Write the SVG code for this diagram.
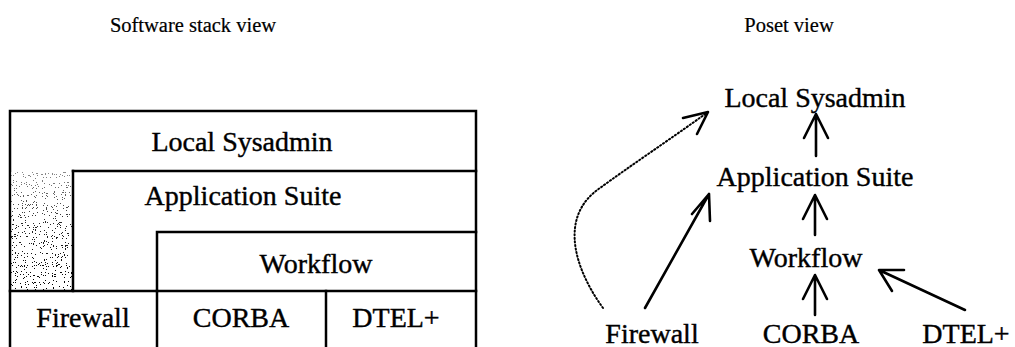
<svg xmlns="http://www.w3.org/2000/svg" width="1015" height="347" viewBox="0 0 1015 347">
  <style>
    .t { font-family: "Liberation Serif", "Times New Roman", serif; fill: #000; stroke: #000; stroke-width: 0.4; }
    .title { font-size: 20.5px; stroke-width: 0.2; }
    .lbl { font-size: 28px; text-anchor: middle; }
    .ln { stroke: #000; stroke-width: 2.5; fill: none; stroke-linecap: square; }
    .edge { stroke: #000; stroke-width: 2.6; fill: none; stroke-linecap: round; stroke-linejoin: round; }
    .dot { stroke: #000; stroke-width: 2; fill: none; stroke-dasharray: 1.2 2.4; stroke-linecap: round; }
  </style>
  <defs>
    <!-- speckled fill for the shaded layer, sparser at the top -->
    <filter id="grain" x="0" y="0" width="100%" height="100%">
      <feTurbulence type="fractalNoise" baseFrequency="0.9" numOctaves="2" seed="7" result="n"/>
      <feColorMatrix in="n" type="matrix" values="0 0 0 0 0  0 0 0 0 0  0 0 0 0 0  0 0 0 -2.2 1.3" result="a"/>
      <feComponentTransfer in="a">
        <feFuncA type="discrete" tableValues="0 0 0 1 1"/>
      </feComponentTransfer>
    </filter>
    <linearGradient id="fade" x1="0" y1="0" x2="0" y2="1">
      <stop offset="0" stop-color="#fff" stop-opacity="0.55"/>
      <stop offset="0.45" stop-color="#fff" stop-opacity="0.15"/>
      <stop offset="1" stop-color="#fff" stop-opacity="0"/>
    </linearGradient>
  </defs>

  <!-- titles -->
  <text class="t title" x="193" y="32" text-anchor="middle">Software stack view</text>
  <text class="t title" x="789" y="32" text-anchor="middle">Poset view</text>

  <!-- software stack -->
  <g id="stack-frame">
    <path class="ln" d="M10,347 V111 H476 V347"/>
  </g>
  <g id="shaded-layer">
    <rect x="11" y="172" width="61" height="118" fill="#000" filter="url(#grain)"/>
    <rect x="11" y="172" width="61" height="118" fill="url(#fade)"/>
  </g>
  <g id="stack-local-sysadmin">
    <path class="ln" d="M73,171 H476"/>
    <text class="t lbl" x="242" y="151">Local Sysadmin</text>
  </g>
  <g id="stack-application-suite">
    <path class="ln" d="M73,171 V291"/>
    <text class="t lbl" x="243" y="205">Application Suite</text>
  </g>
  <g id="stack-workflow">
    <path class="ln" d="M157,291 V232 H476"/>
    <text class="t lbl" x="316" y="273">Workflow</text>
  </g>
  <g id="stack-firewall">
    <path class="ln" d="M10,291 H476"/>
    <text class="t lbl" x="83" y="327">Firewall</text>
  </g>
  <g id="stack-corba">
    <path class="ln" d="M157,291 V347"/>
    <text class="t lbl" x="241" y="327">CORBA</text>
  </g>
  <g id="stack-dtel">
    <path class="ln" d="M326,291 V347"/>
    <text class="t lbl" x="396" y="327">DTEL+</text>
  </g>

  <!-- poset nodes -->
  <g id="poset-local-sysadmin"><text class="t lbl" x="815" y="107">Local Sysadmin</text></g>
  <g id="poset-application-suite"><text class="t lbl" x="815" y="186">Application Suite</text></g>
  <g id="poset-workflow"><text class="t lbl" x="806" y="267">Workflow</text></g>
  <g id="poset-firewall"><text class="t lbl" x="652" y="343">Firewall</text></g>
  <g id="poset-corba"><text class="t lbl" x="811" y="343">CORBA</text></g>
  <g id="poset-dtel"><text class="t lbl" x="966" y="343">DTEL+</text></g>

  <!-- poset order relations -->
  <g id="connectors">
    <path class="edge" d="M816,156 V114 M804,138 L816,114 L828,138"/>
    <path class="edge" d="M815,235 V195 M803,219 L815,195 L827,219"/>
    <path class="edge" d="M815,315 V275 M803,299 L815,275 L827,299"/>
    <path class="edge" d="M645,308 L709,194 M692,214 L709,194 L710,221"/>
    <path class="edge" d="M965,310 L879,270 M892,291 L879,270 L904,270"/>
    <path class="dot" d="M603,308 C572,265 560,215 600,188 C630,166 672,138 708,112"/>
    <path class="edge" d="M683,118 L708,112 L697,134"/>
  </g>
</svg>
